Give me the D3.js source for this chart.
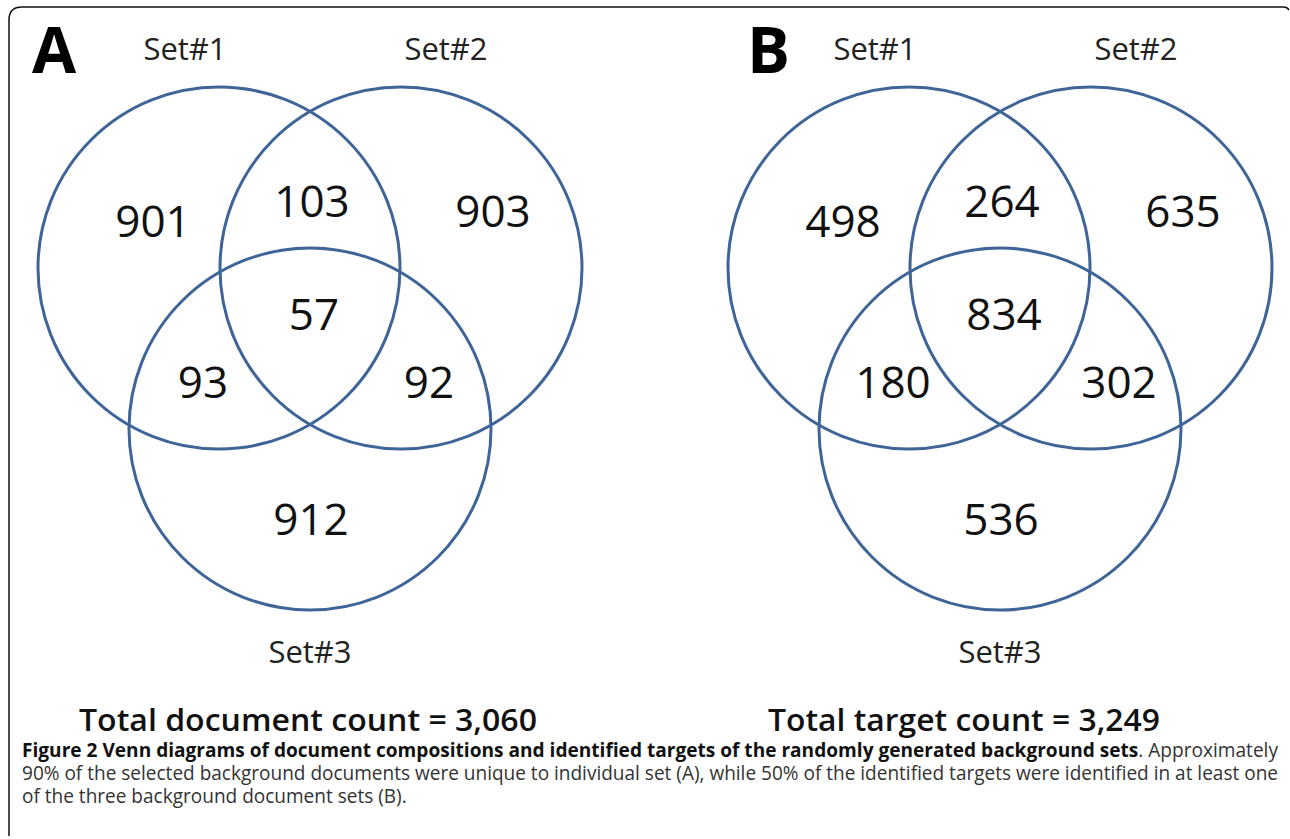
<!DOCTYPE html>
<html>
<head>
<meta charset="utf-8">
<script src="https://cdn.jsdelivr.net/npm/d3@7"></script>
<style>
  body { margin: 0; background: #fff; }
  svg { display: block; }
</style>
</head>
<body>
<svg id="fig" width="1290" height="839"></svg>
<script>
// data
const setNames = ["Set#1", "Set#2", "Set#3"];
// region order: only1, 1&2, only2, 1&2&3, 1&3, 2&3, only3
const regionKeys = ["1", "12", "2", "123", "13", "23", "3"];
const countsA = [901, 103, 903, 57, 93, 92, 912];
const countsB = [498, 264, 635, 834, 180, 302, 536];
const panelLetters = ["A", "B"];
const totalLabels = ["Total document count", "Total target count"];
const totals = [3060, 3249];

const captionBold = "Figure 2 Venn diagrams of document compositions and identified targets of the randomly generated background sets";
const captionRest = [
  ". Approximately",
  "90% of the selected background documents were unique to individual set (A), while 50% of the identified targets were identified in at least one",
  "of the three background document sets (B)."
];

const svg = d3.select("#fig");

// frame (top + left rule with rounded corner)
svg.append("path")
  .attr("d", "M9,836 V20 Q9,7 22,7 H1284 q3,0 5,3")
  .attr("fill", "none")
  .attr("stroke", "#111")
  .attr("stroke-width", 1.5);

const panels = [
  {letter: panelLetters[0], counts: countsA, total: totals[0], totalLabel: totalLabels[0], cx: 310, letterX: 32, totalX: 308, totalW: 458},
  {letter: panelLetters[1], counts: countsB, total: totals[1], totalLabel: totalLabels[1], cx: 1000, letterX: 747, totalX: 964, totalW: 392}
];

const r = 181;
// circle centres in unit space: set1 (-1,0), set2 (1,0), set3 (0,1)
const unitCentres = [[-1, 0], [1, 0], [0, 1]];
// label offsets of each region in px relative to panel centre
const regionOffsets = {
  "1":   [-157, 237],
  "12":  [2, 217],
  "2":   [183, 227],
  "123": [4, 330],
  "13":  [-107, 398],
  "23":  [119, 398],
  "3":   [1, 535]
};
const setLabelPos = [[-125, 60], [136, 60], [0, 663]];

const yScale = d3.scaleLinear().domain([0, 1]).range([268, 429]);
const fmt = d3.format(",");

panels.forEach(function(p) {
  const xScale = d3.scaleLinear().domain([-1, 1]).range([p.cx - 91, p.cx + 91]);
  const g = svg.append("g");

  // circles
  g.selectAll("circle")
    .data(unitCentres)
    .enter()
    .append("circle")
    .attr("cx", d => xScale(d[0]))
    .attr("cy", d => yScale(d[1]))
    .attr("r", r)
    .attr("fill", "none")
    .attr("stroke", "#3f6598")
    .attr("stroke-width", 3);

  // region counts
  g.selectAll(".count")
    .data(regionKeys.map((k, i) => ({key: k, value: p.counts[i]})))
    .enter()
    .append("text")
    .attr("class", "count")
    .attr("x", d => p.cx + regionOffsets[d.key][0])
    .attr("y", d => regionOffsets[d.key][1])
    .attr("text-anchor", "middle")
    .style("font-family", "'Open Sans', sans-serif")
    .style("font-size", "44px")
    .style("fill", "#111")
    .text(d => d.value);

  // set names
  g.selectAll(".setname")
    .data(setNames)
    .enter()
    .append("text")
    .attr("class", "setname")
    .attr("x", (d, i) => p.cx + setLabelPos[i][0])
    .attr("y", (d, i) => setLabelPos[i][1])
    .attr("text-anchor", "middle")
    .style("font-family", "'Open Sans', sans-serif")
    .style("font-size", "31px")
    .style("fill", "#222")
    .text(d => d);

  // panel letter
  g.append("text")
    .attr("x", p.letterX)
    .attr("y", 73)
    .style("font-family", "'Open Sans', sans-serif")
    .style("font-weight", "bold")
    .style("font-size", "64px")
    .style("fill", "#000")
    .text(p.letter);

  // total
  g.append("text")
    .attr("x", p.totalX)
    .attr("y", 731)
    .attr("text-anchor", "middle")
    .attr("textLength", p.totalW)
    .attr("lengthAdjust", "spacingAndGlyphs")
    .style("font-family", "'Open Sans', sans-serif")
    .style("font-weight", 600)
    .style("font-size", "31px")
    .style("fill", "#111")
    .text(p.totalLabel + " = " + fmt(p.total));
});

// caption: condensed to the measured line width
const capLeft = 22, capRight = 1278;
const capFont = "'Open Sans', sans-serif";
const capSize = "20px";
const lineY = [757, 780, 803];
const capWidth = capRight - capLeft;

const l1 = svg.append("text")
  .attr("x", capLeft).attr("y", lineY[0])
  .style("font-family", capFont).style("font-size", capSize).style("fill", "#111");
l1.append("tspan").style("font-weight", "bold").text(captionBold);
l1.append("tspan").style("fill", "#333").text(captionRest[0]);
l1.attr("textLength", capWidth).attr("lengthAdjust", "spacingAndGlyphs");

const l2 = svg.append("text")
  .attr("x", capLeft).attr("y", lineY[1])
  .style("font-family", capFont).style("font-size", capSize).style("fill", "#333")
  .text(captionRest[1]);
const squeeze = capWidth / l2.node().getComputedTextLength();
l2.attr("textLength", capWidth).attr("lengthAdjust", "spacingAndGlyphs");

const l3 = svg.append("text")
  .attr("x", capLeft).attr("y", lineY[2])
  .style("font-family", capFont).style("font-size", capSize).style("fill", "#333")
  .text(captionRest[2]);
l3.attr("textLength", l3.node().getComputedTextLength() * squeeze)
  .attr("lengthAdjust", "spacingAndGlyphs");
</script>
</body>
</html>
